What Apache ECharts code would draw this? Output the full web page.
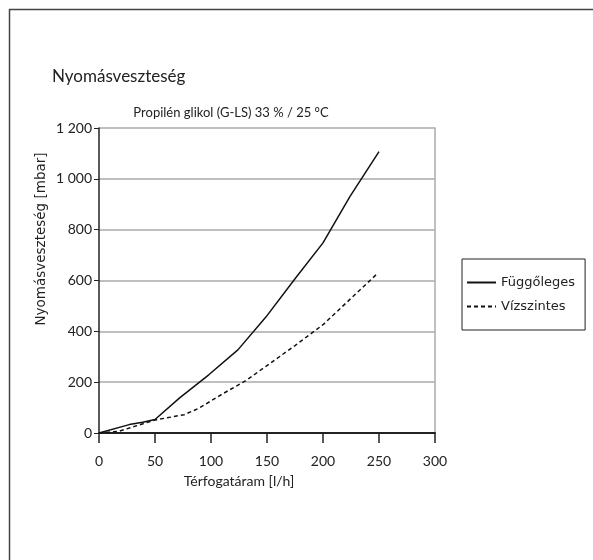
<!DOCTYPE html>
<html><head><meta charset="utf-8">
<script src="https://cdn.jsdelivr.net/npm/echarts@6/dist/echarts.min.js"></script>
<style>html,body{margin:0;padding:0;background:#fff}#c{width:593px;height:560px}</style>
</head><body><div id="c"></div>
<script>
var titleText = 'Nyomásveszteség';
var subtitleText = 'Propilén glikol (G-LS) 33 % / 25 °C';
var xName = 'Térfogatáram [l/h]';
var yName = 'Nyomásveszteség [mbar]';
var seriesNames = ['Függőleges', 'Vízszintes'];
var verticalX = [0, 27, 39, 50, 72, 98, 124, 149, 175, 200, 224, 250];
var verticalY = [0, 33, 42, 53, 138, 229, 327, 456, 607, 748, 930, 1107];
var horizontalX = [0, 18, 50, 76, 89, 110, 131, 149, 175, 200, 248];
var horizontalY = [0, 7, 51, 72, 97, 153, 206, 262, 344, 426, 625];
var xTicks = [0, 50, 100, 150, 200, 250, 300];
var yTicks = [0, 200, 400, 600, 800, 1000, 1200];

function pairs(xs, ys){ return xs.map(function(x,i){ return [x, ys[i]]; }); }
var F = 'Lato, "DejaVu Sans", sans-serif';
var F2 = '"DejaVu Sans", sans-serif';
var chart = echarts.init(document.getElementById('c'), null, {renderer:'canvas'});
chart.setOption({
  animation: false,
  backgroundColor: '#fff',
  textStyle: {fontFamily: F},
  title: [
    {text: titleText, left: 52, top: 68, padding: 0, textStyle: {fontFamily: F, fontSize: 17, fontWeight: 'normal', color: '#222'}},
    {text: subtitleText, left: 231, top: 106, padding: 0, textAlign: 'center', textStyle: {fontFamily: F, fontSize: 13, fontWeight: 'normal', color: '#222'}},
    {text: xName, left: 239, top: 474, padding: 0, textAlign: 'center', textStyle: {fontFamily: F, fontSize: 14, fontWeight: 'normal', color: '#222'}}
  ],
  graphic: [
    {type: 'line', shape: {x1: 9, y1: 9.5, x2: 593, y2: 9.5}, style: {stroke: '#444', lineWidth: 1.5}},
    {type: 'line', shape: {x1: 9.5, y1: 9, x2: 9.5, y2: 560}, style: {stroke: '#444', lineWidth: 1.5}},
    {type: 'text', x: 41, y: 239, rotation: Math.PI / 2,
     style: {text: yName, font: '13.5px "DejaVu Sans", sans-serif', fill: '#222', textAlign: 'center', textVerticalAlign: 'middle'}}
  ],
  legend: {
    orient: 'vertical', left: 462, top: 259,
    data: seriesNames,
    itemWidth: 29, itemHeight: 14, itemGap: 11,
    padding: [17, 10, 17, 4],
    borderColor: '#222', borderWidth: 1,
    itemStyle: {opacity: 0},
    textStyle: {fontFamily: F2, fontSize: 13, color: '#222', padding: [0,0,0,0]}
  },
  grid: {left: 99, right: 158, top: 128, bottom: 127},
  xAxis: {
    type: 'value', min: 0, max: 300, interval: 50,
    axisLine: {show: true, onZero: false, lineStyle: {color: '#222', width: 2}},
    axisTick: {show: true, length: 10, lineStyle: {color: '#222', width: 1.5}},
    axisLabel: {fontFamily: F, fontSize: 14, color: '#222', margin: 21},
    splitLine: {show: false}
  },
  yAxis: [{
    type: 'value', min: 0, max: 1200, interval: 200,
    axisLine: {show: true, lineStyle: {color: '#222', width: 1.5}},
    axisTick: {show: true, length: 5, lineStyle: {color: '#222', width: 1}},
    axisLabel: {fontFamily: F, fontSize: 14, color: '#222', margin: 7,
      formatter: function(v){ return v >= 1000 ? String(v).replace(/(\d)(\d{3})$/, '$1 $2') : String(v); }},
    splitLine: {show: true, lineStyle: {color: '#aaa', width: 1.5}}
  }, {
    type: 'value', min: 0, max: 1200, interval: 200, position: 'right',
    axisLine: {show: true, lineStyle: {color: '#aaa', width: 1.5}},
    axisTick: {show: false}, axisLabel: {show: false}, splitLine: {show: false}
  }],
  series: [
    {name: seriesNames[0], type: 'line', data: pairs(verticalX, verticalY), symbol: 'none', smooth: false,
     lineStyle: {color: '#111', width: 1.5}, itemStyle: {color: '#111'}},
    {name: seriesNames[1], type: 'line', data: pairs(horizontalX, horizontalY), symbol: 'none', smooth: false,
     lineStyle: {color: '#111', width: 1.5, type: [4, 3]}, itemStyle: {color: '#111'}}
  ]
});
</script></body></html>
